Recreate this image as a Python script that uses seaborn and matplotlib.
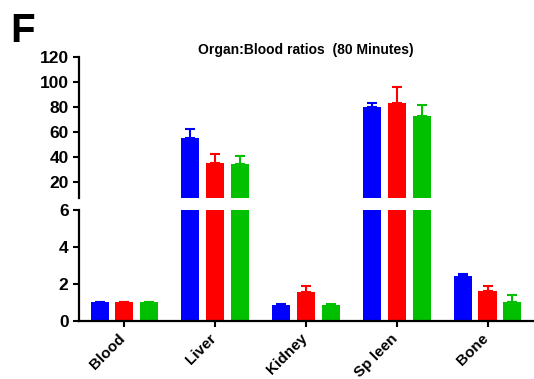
import matplotlib
matplotlib.use("Agg")
import matplotlib.pyplot as plt
import matplotlib.transforms as mtrans
import numpy as np
import pandas as pd
import seaborn as sns

# dados
orgaos = ['Blood', 'Liver', 'Kidney', 'Sp leen', 'Bone']
grupos = ['Grupo 1', 'Grupo 2', 'Grupo 3']
cores = ['#0000FF', '#FF0000', '#00C000']

media_g1 = [1.0, 54.7, 0.87, 80.0, 2.40]
media_g2 = [1.0, 35.2, 1.54, 83.0, 1.60]
media_g3 = [1.0, 33.9, 0.87, 72.6, 1.00]

erro_g1 = [0.0, 7.2, 0.05, 3.2, 0.13]
erro_g2 = [0.0, 6.7, 0.36, 12.5, 0.30]
erro_g3 = [0.0, 6.4, 0.03, 8.5, 0.41]

medias = [media_g1, media_g2, media_g3]
erros = [erro_g1, erro_g2, erro_g3]

df = pd.DataFrame({
    'orgao': orgaos * 3,
    'grupo': np.repeat(grupos, len(orgaos)),
    'valor': media_g1 + media_g2 + media_g3,
})

sns.set_style('ticks')
plt.rcParams['font.family'] = ['Liberation Sans', 'DejaVu Sans']
plt.rcParams['font.weight'] = 'bold'
plt.rcParams['text.color'] = 'black'
plt.rcParams['xtick.color'] = 'black'
plt.rcParams['ytick.color'] = 'black'
plt.rcParams['axes.edgecolor'] = 'black'

fig = plt.figure(figsize=(5.34, 3.79), dpi=100)
ax_top = fig.add_axes([0.148, 0.4776, 0.850, 0.3728])
ax_bot = fig.add_axes([0.148, 0.1538, 0.850, 0.2920])

for ax in (ax_top, ax_bot):
    sns.barplot(data=df, x='orgao', y='valor', hue='grupo', palette=cores,
                saturation=1, errorbar=None, width=0.82, gap=0.27,
                linewidth=0, legend=False, ax=ax)
    for cont, err, cor in zip(ax.containers, erros, cores):
        xs = [p.get_x() + p.get_width() / 2 for p in cont]
        hs = [p.get_height() for p in cont]
        ax.errorbar(xs, hs, yerr=[np.zeros(len(err)), err], fmt='none',
                    ecolor=cor, elinewidth=1.5, capsize=3.5, capthick=1.5,
                    zorder=5)
    ax.set_xlim(-0.5, 4.5)
    ax.set_xlabel('')
    ax.set_ylabel('')
    for s in ('top', 'right'):
        ax.spines[s].set_visible(False)
    ax.spines['left'].set_linewidth(1.6)
    ax.spines['bottom'].set_linewidth(1.6)
    ax.tick_params(width=1.5, length=4, labelsize=12.5, colors='black')
    for lab in ax.get_yticklabels():
        lab.set_fontweight('bold')

ax_top.set_ylim(7, 120)
ax_top.set_yticks([20, 40, 60, 80, 100, 120])
ax_top.spines['bottom'].set_visible(False)
ax_top.tick_params(axis='x', bottom=False, labelbottom=False)
ax_top.set_title('Organ:Blood ratios  (80 Minutes)', fontsize=10,
                 fontweight='bold', pad=2)

ax_bot.set_ylim(0, 6)
ax_bot.set_yticks([0, 2, 4, 6])
ax_bot.set_xticks(range(len(orgaos)))
ax_bot.set_xticklabels(orgaos, rotation=45, ha='right',
                       rotation_mode='anchor', fontsize=11,
                       fontweight='bold')
desloc = mtrans.ScaledTranslation(-6 / 100, 0, fig.dpi_scale_trans)
for lab in ax_bot.get_xticklabels():
    lab.set_transform(lab.get_transform() + desloc)

fig.text(0.02, 0.89, 'F', fontsize=29, fontweight='bold')

fig.savefig('out.png', dpi=100)
